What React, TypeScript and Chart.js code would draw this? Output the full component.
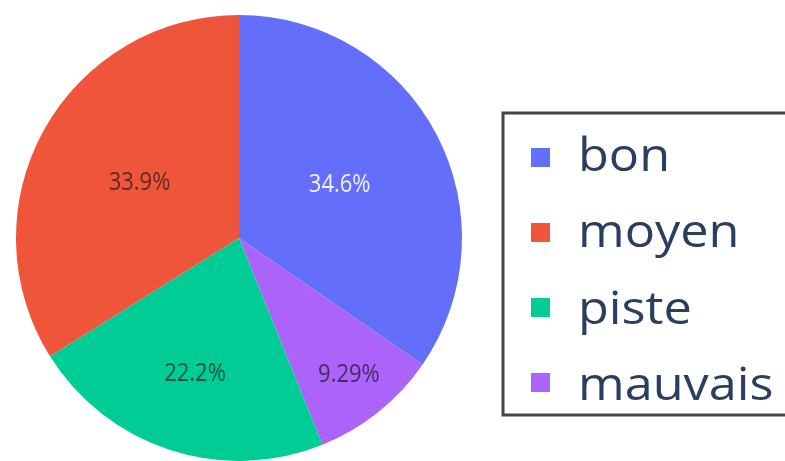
import React, { useEffect, useRef } from "react";
import { Chart, registerables } from "chart.js";

Chart.register(...registerables);

// Slices in drawing order (clockwise from 12 o'clock)
const sliceLabels = ["bon", "mauvais", "piste", "moyen"];
const sliceValues = [34.6, 9.29, 22.2, 33.9];
const sliceColors = ["#636efa", "#ab63fa", "#00cc96", "#EF553B"];
const sliceTextColors = ["#f2f2ff", "rgba(50,35,70,0.85)", "rgba(30,60,50,0.85)", "rgba(70,35,30,0.85)"];
// Legend order
const legendOrder = ["bon", "moyen", "piste", "mauvais"];

const FONT = "'Open Sans', 'Noto Sans', sans-serif";

const labelPlugin = {
  id: "pieLabels",
  afterDatasetsDraw(chart: any) {
    const ctx = chart.ctx;
    const meta = chart.getDatasetMeta(0);
    const total = sliceValues.reduce((a, b) => a + b, 0);
    meta.data.forEach((arc: any, i: number) => {
      const { x, y, startAngle, endAngle, outerRadius } = arc.getProps(
        ["x", "y", "startAngle", "endAngle", "outerRadius"],
        true
      );
      const span = ((endAngle - startAngle) * 180) / Math.PI;
      const t = Math.max(0, Math.min(1, (120 - span) / 87));
      const frac = 0.51 + 0.28 * t;
      const mid = (startAngle + endAngle) / 2;
      const px = x + Math.cos(mid) * outerRadius * frac;
      const py = y + Math.sin(mid) * outerRadius * frac;
      const pct = (sliceValues[i] / total) * 100;
      const txt = (pct >= 10 ? pct.toFixed(1) : pct.toFixed(2)) + "%";
      ctx.save();
      ctx.translate(px, py);
      ctx.scale(1, 1.15);
      ctx.font = `22px ${FONT}`;
      ctx.textAlign = "center";
      ctx.textBaseline = "middle";
      ctx.fillStyle = sliceTextColors[i];
      ctx.fillText(txt, 0, 0);
      ctx.restore();
    });
  },
};

const legendPlugin = {
  id: "boxLegend",
  afterDraw(chart: any) {
    const ctx = chart.ctx;
    const left = 503;
    const top = 113;
    ctx.save();
    ctx.strokeStyle = "#444";
    ctx.lineWidth = 3;
    ctx.strokeRect(left, top, 300, 302);
    legendOrder.forEach((name, k) => {
      const i = sliceLabels.indexOf(name);
      const cy = 158 + k * 75;
      ctx.fillStyle = sliceColors[i];
      ctx.fillRect(531, cy - 10, 19, 19);
      ctx.save();
      ctx.translate(578, 171 + k * 76.3);
      ctx.scale(1.12, 1);
      ctx.font = `45px ${FONT}`;
      ctx.textBaseline = "alphabetic";
      ctx.fillStyle = "#2a3f5f";
      ctx.fillText(name, 0, 0);
      ctx.restore();
    });
    ctx.restore();
  },
};

export default function App() {
  const ref = useRef<HTMLCanvasElement>(null);
  useEffect(() => {
    const chart = new Chart(ref.current!, {
      type: "pie",
      data: {
        labels: sliceLabels,
        datasets: [
          {
            data: sliceValues,
            backgroundColor: sliceColors,
            borderWidth: 0,
          },
        ],
      },
      options: {
        responsive: false,
        animation: false,
        layout: { padding: { left: 16, right: 323, top: 15, bottom: 0 } },
        plugins: {
          legend: { display: false },
          tooltip: { enabled: false },
        },
      },
      plugins: [labelPlugin, legendPlugin],
    });
    return () => chart.destroy();
  }, []);
  return (
    <div style={{ position: "fixed", left: 0, top: 0, width: 785, height: 461, background: "#fff" }}>
      <canvas ref={ref} width={785} height={461} style={{ width: 785, height: 461 }} />
    </div>
  );
}
